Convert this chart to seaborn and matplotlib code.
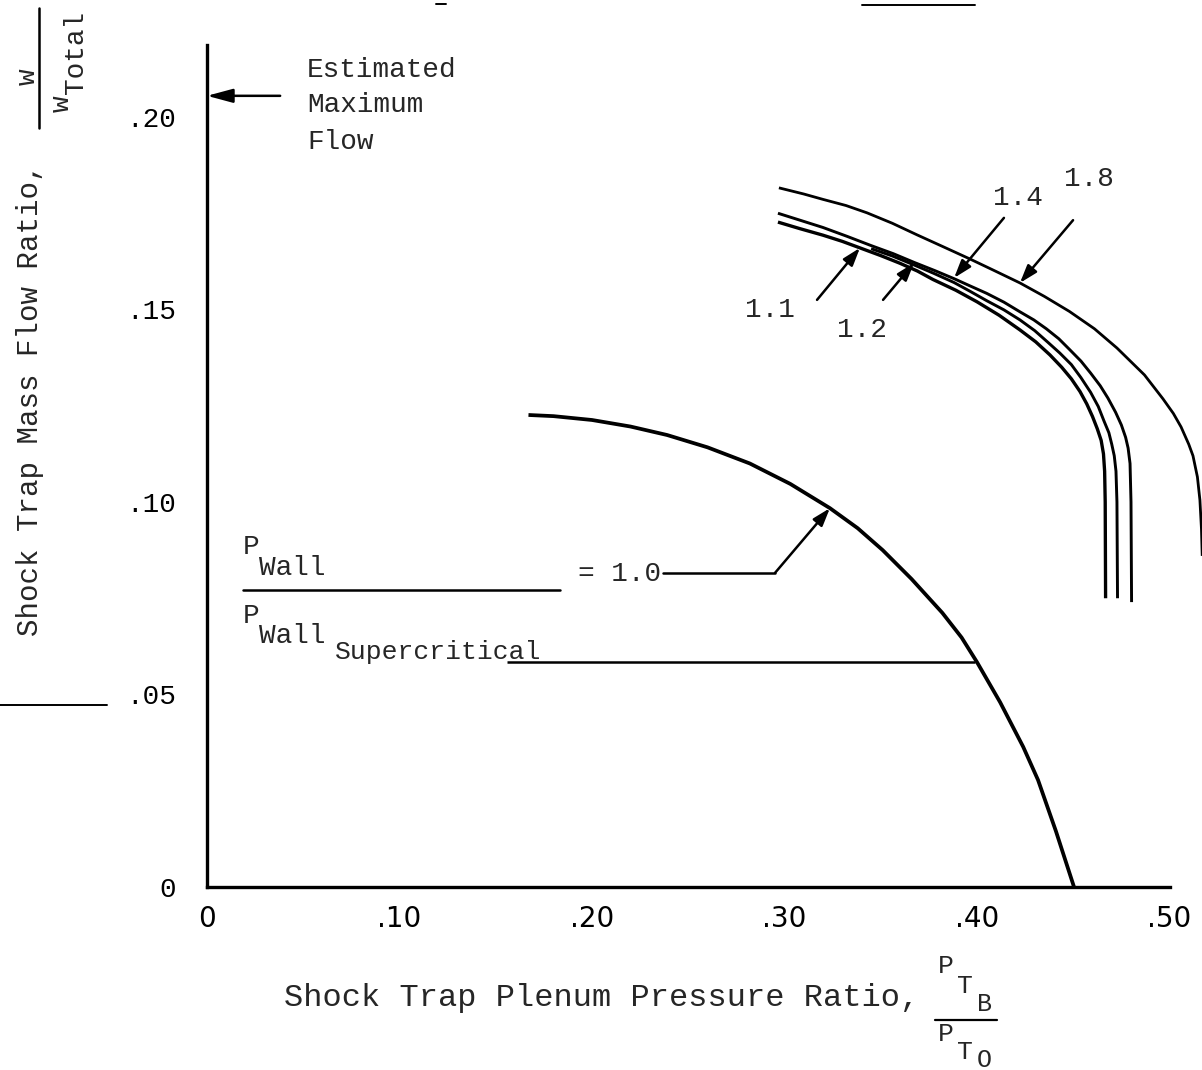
import matplotlib
matplotlib.use("Agg")
import matplotlib.pyplot as plt
from matplotlib.lines import Line2D
import seaborn as sns
import pandas as pd

# ---------------- data ----------------
curve_10_x = [0.167, 0.180, 0.200, 0.220, 0.239, 0.260, 0.282, 0.303, 0.3236, 0.338, 0.351,
              0.366, 0.382, 0.392, 0.400, 0.412, 0.424, 0.4317, 0.441, 0.4504]
curve_10_y = [0.1226, 0.1223, 0.1213, 0.1196, 0.1174, 0.1142, 0.1100, 0.1047, 0.0984, 0.0932, 0.0875,
              0.0800, 0.0712, 0.0648, 0.0584, 0.0480, 0.0364, 0.0278, 0.0145, 0.0]

curve_11_x = [0.2966, 0.3080, 0.3200, 0.3300, 0.3392, 0.3500, 0.3600, 0.3690, 0.3771, 0.3890,
              0.4000, 0.4115, 0.4223, 0.4305, 0.4379, 0.4440, 0.4490, 0.4535, 0.4570, 0.4600,
              0.4625, 0.4645, 0.4657, 0.4663, 0.4666, 0.4668]
curve_11_y = [0.1727, 0.1710, 0.1693, 0.1677, 0.1660, 0.1640, 0.1620, 0.1600, 0.1578, 0.1550,
              0.1520, 0.1485, 0.1447, 0.1416, 0.1382, 0.1350, 0.1320, 0.1287, 0.1255, 0.1222,
              0.1190, 0.1160, 0.1125, 0.1080, 0.1000, 0.0750]

curve_12_x = [0.3450, 0.3560, 0.3662, 0.3775, 0.3881, 0.3965, 0.4050, 0.4140, 0.4223, 0.4300,
              0.4370, 0.4430, 0.4490, 0.4540, 0.4590, 0.4630, 0.4660, 0.4685, 0.4700, 0.4713,
              0.4722, 0.4727, 0.4730]
curve_12_y = [0.1658, 0.1639, 0.1618, 0.1594, 0.1570, 0.1547, 0.1523, 0.1499, 0.1473, 0.1445,
              0.1414, 0.1387, 0.1357, 0.1323, 0.1285, 0.1248, 0.1210, 0.1180, 0.1150, 0.1120,
              0.1080, 0.1000, 0.0750]

curve_14_x = [0.2966, 0.3080, 0.3200, 0.3325, 0.3450, 0.3565, 0.3675, 0.3781, 0.3881, 0.3965,
              0.4050, 0.4140, 0.4223, 0.4295, 0.4360, 0.4425, 0.4483, 0.4540, 0.4590, 0.4640,
              0.4680, 0.4720, 0.4750, 0.4772, 0.4785, 0.4795, 0.4800, 0.4803]
curve_14_y = [0.1750, 0.1732, 0.1713, 0.1690, 0.1666, 0.1645, 0.1622, 0.1601, 0.1580, 0.1561,
              0.1542, 0.1519, 0.1494, 0.1473, 0.1450, 0.1424, 0.1395, 0.1366, 0.1335, 0.1302,
              0.1270, 0.1233, 0.1200, 0.1168, 0.1140, 0.1100, 0.1000, 0.0740]

curve_18_x = [0.2971, 0.3100, 0.3200, 0.3320, 0.3429, 0.3560, 0.3688, 0.3820, 0.3960, 0.4090,
              0.4223, 0.4350, 0.4480, 0.4610, 0.4727, 0.4870, 0.4966, 0.5020, 0.5060, 0.5100,
              0.5122, 0.5145, 0.5158, 0.5166, 0.5170]
curve_18_y = [0.1816, 0.1800, 0.1786, 0.1770, 0.1751, 0.1724, 0.1694, 0.1664, 0.1632, 0.1601,
              0.1569, 0.1534, 0.1495, 0.1450, 0.1400, 0.1330, 0.1268, 0.1230, 0.1195, 0.1150,
              0.1120, 0.1065, 0.1005, 0.0930, 0.0860]

supercrit_x = [0.156, 0.399]
supercrit_y = [0.0584, 0.0584]

x_ticks = [0.0, 0.10, 0.20, 0.30, 0.40, 0.50]
x_tick_labels = ["0", ".10", ".20", ".30", ".40", ".50"]
y_ticks = [0.0, 0.05, 0.10, 0.15, 0.20]
y_tick_labels = ["0", ".05", ".10", ".15", ".20"]

max_flow = 0.2055

# ---------------- styling ----------------
sns.set_theme(style="white")
plt.rcParams['font.family'] = ['Liberation Mono', 'DejaVu Sans']

W, H = 1202, 1070
fig = plt.figure(figsize=(W / 100, H / 100), dpi=100)
fig.patch.set_facecolor("white")
ax = fig.add_axes([207 / W, 183 / H, 962.5 / W, 842 / H])
ax.set_facecolor("white")

frames = []
for name, xs, ys in [("1.0", curve_10_x, curve_10_y), ("1.1", curve_11_x, curve_11_y),
                     ("1.2", curve_12_x, curve_12_y), ("1.4", curve_14_x, curve_14_y),
                     ("1.8", curve_18_x, curve_18_y)]:
    frames.append(pd.DataFrame({"x": xs, "y": ys, "curve": name}))
df = pd.concat(frames, ignore_index=True)

for name, lw in [("1.0", 2.7), ("1.1", 2.4), ("1.2", 2.1), ("1.4", 2.1), ("1.8", 2.0)]:
    sns.lineplot(data=df[df.curve == name], x="x", y="y", sort=False, estimator=None,
                 color="black", lw=lw, ax=ax, legend=False)

sns.lineplot(x=supercrit_x, y=supercrit_y, color="black", lw=1.8, ax=ax, legend=False)
for ln in ax.lines:
    ln.set_clip_on(False)
    ln.set_solid_capstyle("butt")
    ln.set_solid_joinstyle("round")

ax.set_xlim(0, 0.5)
ax.set_ylim(0, 0.2187)
for s in ["top", "right"]:
    ax.spines[s].set_visible(False)
for s in ["left", "bottom"]:
    ax.spines[s].set_color("black")
    ax.spines[s].set_linewidth(2.4)

ax.set_xticks(x_ticks)
ax.set_xticklabels(x_tick_labels, family=['Liberation Sans Narrow', 'DejaVu Sans'], fontsize=20)
ax.set_yticks(y_ticks)
ax.set_yticklabels(y_tick_labels, fontsize=20)
ax.tick_params(axis="x", direction="in", length=14, width=1.8, pad=13, colors="black")
ax.tick_params(axis="y", direction="in", length=11, width=1.8, pad=22, colors="black")
ax.set_xlabel("")
ax.set_ylabel("")

# ---------------- annotations ----------------
arrow_kw = dict(arrowstyle="-|>,head_length=0.9,head_width=0.3", color="black", lw=1.8,
                shrinkA=0, shrinkB=0)

# Estimated maximum flow
ax.annotate("", xy=(0.0, max_flow), xytext=(0.038, max_flow),
            arrowprops=dict(arrowstyle="-|>,head_length=1.3,head_width=0.35", color="black",
                            lw=1.8, shrinkA=0, shrinkB=0), annotation_clip=False)
ax.text(0.052, 0.2122, "Estimated", fontsize=20, va="center", ha="left")
ax.text(0.052, 0.2031, "Maximum", fontsize=20, va="center", ha="left")
ax.text(0.052, 0.1935, "Flow", fontsize=20, va="center", ha="left")

# curve labels with arrows
labels = [("1.8", (0.4582, 0.1838), (0.4499, 0.1732), (0.4223, 0.1569)),
          ("1.4", (0.4213, 0.1790), (0.4140, 0.1738), (0.3881, 0.1582)),
          ("1.1", (0.2925, 0.1499), (0.3169, 0.1525), (0.3392, 0.1660)),
          ("1.2", (0.3403, 0.1447), (0.3512, 0.1525), (0.3673, 0.1621))]
for txt, tpos, tail, head in labels:
    ax.text(tpos[0], tpos[1], txt, fontsize=20, ha="center", va="center")
    ax.annotate("", xy=head, xytext=tail, arrowprops=arrow_kw)

# = 1.0 leader
ax.text(0.2145, 0.0812, "= 1.0", fontsize=20, ha="center", va="center")
ax.plot([0.2369, 0.2951], [0.0816, 0.0816], color="black", lw=1.8)
ax.annotate("", xy=(0.3236, 0.0984), xytext=(0.2951, 0.0816), arrowprops=arrow_kw)

# P_Wall / P_Wall_Supercritical
ax.text(0.0187, 0.0883, "P", fontsize=20, ha="left", va="center")
ax.text(0.0270, 0.0829, "Wall", fontsize=20, ha="left", va="center")
ax.plot([0.0187, 0.1834], [0.0771, 0.0771], color="black", lw=1.8)
ax.text(0.0187, 0.0703, "P", fontsize=20, ha="left", va="center")
ax.text(0.0270, 0.0652, "Wall", fontsize=20, ha="left", va="center")
ax.text(0.0665, 0.0611, "Supercritical", fontsize=19, ha="left", va="center")

# ---------------- axis titles (figure text) ----------------
def fx(px):
    return px / W

def fy(py):
    return 1 - py / H

fig.text(fx(30), fy(400), "Shock Trap Mass Flow Ratio,", rotation=90, fontsize=21,
         ha="center", va="center")
fig.text(fx(28), fy(77), "w", rotation=90, fontsize=20, ha="center", va="center")
fig.add_artist(Line2D([fx(39), fx(39)], [fy(8), fy(128)], color="black", lw=1.8))
fig.text(fx(62), fy(104), "w", rotation=90, fontsize=20, ha="center", va="center")
fig.text(fx(76), fy(52), "Total", rotation=90, fontsize=20, ha="center", va="center")

fig.text(fx(602), fy(998), "Shock Trap Plenum Pressure Ratio,", fontsize=23,
         ha="center", va="center")
fig.text(fx(946), fy(966), "P", fontsize=19, ha="center", va="center")
fig.text(fx(965), fy(986), "T", fontsize=19, ha="center", va="center")
fig.text(fx(984), fy(1004), "B", fontsize=18, ha="center", va="center")
fig.add_artist(Line2D([fx(935), fx(997)], [fy(1020), fy(1020)], color="black", lw=1.6))
fig.text(fx(946), fy(1034), "P", fontsize=19, ha="center", va="center")
fig.text(fx(965), fy(1052), "T", fontsize=19, ha="center", va="center")
fig.text(fx(984), fy(1060), "O", fontsize=18, ha="center", va="center")

# scan fragments
fig.add_artist(Line2D([0, fx(107)], [fy(705), fy(705)], color="black", lw=1.4))
fig.add_artist(Line2D([fx(862), fx(975)], [fy(5), fy(5)], color="black", lw=1.4))
fig.add_artist(Line2D([fx(436), fx(446)], [fy(4), fy(4)], color="black", lw=1.4))

fig.savefig("out.png", dpi=100, facecolor="white")
